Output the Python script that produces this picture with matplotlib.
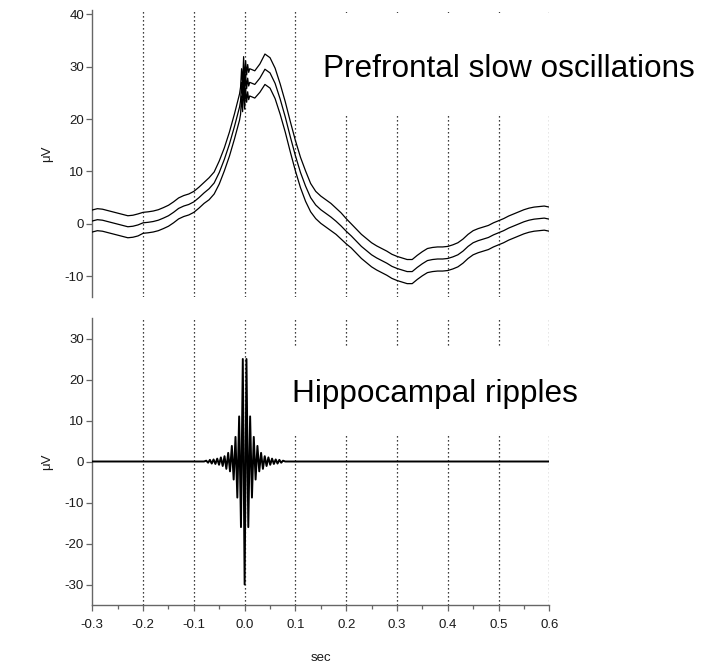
import numpy as np
import matplotlib
matplotlib.use("Agg")
import matplotlib.pyplot as plt
from matplotlib.patches import Rectangle

plt.rcParams['font.family'] = ['Liberation Sans', 'DejaVu Sans']
plt.rcParams['axes.unicode_minus'] = False

# ---------------- data ----------------
# Prefrontal slow oscillation (mean and SEM), time in s
so_t_left = np.round(np.arange(-0.30, -0.005, 0.01), 3)
so_t_center = [-0.008, -0.006, -0.004, -0.002, 0.0, 0.002, 0.004, 0.006, 0.008]
so_t_right = np.round(np.arange(0.01, 0.6001, 0.01), 3)
so_t = np.concatenate([so_t_left, so_t_center, so_t_right])

so_mean = [
    0.55, 0.8, 0.7, 0.45, 0.2, -0.05, -0.3, -0.55, -0.45, -0.2,
    0.2, 0.3, 0.45, 0.7, 1.1, 1.55, 2.2, 2.95, 3.4, 3.7,
    4.2, 5.0, 5.9, 6.7, 7.8, 9.8, 12.3, 15.2, 18.6, 22.3,
    23.5, 27.0, 24.0, 29.3, 24.5, 28.5, 25.8, 27.8, 26.3,
    27.0, 26.6, 27.8, 29.5, 28.8, 26.8, 23.8, 20.4, 16.6, 13.0,
    9.8, 7.2, 5.0, 3.6, 2.7, 2.0, 1.3, 0.5, -0.4, -1.4,
    -2.3, -3.3, -4.3, -5.1, -5.9, -6.5, -7.0, -7.5, -8.1, -8.5,
    -8.8, -9.1, -9.1, -8.3, -7.6, -7.0, -6.8, -6.7, -6.7, -6.6,
    -6.3, -5.9, -5.2, -4.3, -3.6, -3.2, -2.9, -2.6, -2.1, -1.7,
    -1.3, -0.8, -0.4, 0.0, 0.4, 0.7, 0.9, 1.0, 1.1, 0.9,
]
so_sem = [
    2.1, 2.1, 2.1, 2.1, 2.1, 2.1, 2.1, 2.1, 2.1, 2.1,
    2.0, 2.0, 2.0, 2.0, 2.0, 2.0, 2.0, 2.0, 2.0, 2.0,
    2.0, 2.0, 2.0, 2.1, 2.1, 2.2, 2.2, 2.3, 2.4, 2.5,
    2.6, 2.6, 2.6, 2.6, 2.6, 2.6, 2.6, 2.6, 2.6,
    2.6, 2.6, 2.7, 2.9, 2.9, 2.9, 2.9, 2.9, 2.9, 2.9,
    2.9, 2.9, 2.7, 2.6, 2.6, 2.6, 2.6, 2.5, 2.5, 2.4,
    2.3, 2.3, 2.3, 2.3, 2.3, 2.3, 2.3, 2.3, 2.3, 2.3,
    2.3, 2.3, 2.3, 2.3, 2.3, 2.3, 2.3, 2.3, 2.3, 2.3,
    2.3, 2.3, 2.3, 2.3, 2.3, 2.3, 2.3, 2.3, 2.3, 2.3,
    2.3, 2.3, 2.3, 2.3, 2.3, 2.3, 2.3, 2.3, 2.3, 2.3,
]

# Hippocampal ripple average: successive extrema (half-cycle spacing)
rip_half_period = 0.0036
rip_k = np.arange(-21, 22)
rip_vals = [
    0.2, -0.3, 0.4, -0.5, 0.5, -0.6, 0.7, -0.8, 1.0, -1.1, 1.3,
    -1.8, 2.1, -2.4, 3.8, -4.4, 6.0, -8.8, 11.0, -16.0, 25.0,
    -30.0,
    25.0, -16.0, 11.0, -8.8, 6.0, -4.4, 3.8, -2.4, 2.1, -1.8,
    1.3, -1.1, 1.0, -0.8, 0.7, -0.6, 0.5, -0.5, 0.4, -0.3, 0.2,
]
rip_t = np.concatenate([[-0.3, -0.08], rip_k * rip_half_period, [0.08, 0.6]])
rip_v = np.concatenate([[0.0, 0.0], rip_vals, [0.0, 0.0]])

x_ticks = [-0.3, -0.2, -0.1, 0.0, 0.1, 0.2, 0.3, 0.4, 0.5, 0.6]
x_ticklabels = ['-0.3', '-0.2', '-0.1', '0.0', '0.1', '0.2', '0.3', '0.4', '0.5', '0.6']
top_yticks = [-10, 0, 10, 20, 30, 40]
bot_yticks = [-30, -20, -10, 0, 10, 20, 30]

# ---------------- figure ----------------
fig = plt.figure(figsize=(7.01, 6.65), dpi=100)
L, W = 92.3 / 701, 457 / 701
ax1 = fig.add_axes([L, 1 - 297 / 665, W, 287 / 665])
ax2 = fig.add_axes([L, 1 - 605 / 665, W, 287 / 665])

spine_col = '#666666'
tick_col = '#1a1a1a'

for ax in (ax1, ax2):
    ax.set_xlim(-0.3, 0.6)
    ax.set_xticks(x_ticks)
    ax.set_axisbelow(True)
    ax.grid(axis='x', color='black', linestyle=(0, (1, 2.2)), linewidth=0.9)
    ax.xaxis.get_gridlines()[0].set_visible(False)
    for s in ('top', 'right'):
        ax.spines[s].set_visible(False)
    ax.spines['left'].set_color(spine_col)
    ax.spines['bottom'].set_color(spine_col)
    ax.spines['left'].set_linewidth(1.0)
    ax.spines['bottom'].set_linewidth(1.0)
    ax.tick_params(axis='y', direction='out', length=4, width=0.9, color=spine_col,
                   labelsize=9.5, labelcolor=tick_col, pad=2)
    ax.set_ylabel('μV', fontsize=9.5, color=tick_col)
    ax.yaxis.set_label_coords(-0.086, 0.5)

# top panel
ax1.set_ylim(-13.95, 40.8)
ax1.set_yticks(top_yticks)
ax1.spines['bottom'].set_visible(False)
ax1.tick_params(axis='x', which='both', bottom=False, labelbottom=False)
so_mean_a = np.array(so_mean)
so_sem_a = np.array(so_sem)
ax1.plot(so_t, so_mean_a + so_sem_a, color='black', lw=0.9, zorder=3)
ax1.plot(so_t, so_mean_a, color='black', lw=0.9, zorder=3)
ax1.plot(so_t, so_mean_a - so_sem_a, color='black', lw=0.9, zorder=3)
ax1.add_patch(Rectangle((0.145, 20.8), 0.5, 19.4, facecolor='white', edgecolor='none',
                        zorder=1, clip_on=False))
ax1.text(0.154, 28.0, 'Prefrontal slow oscillations', fontsize=22.7, ha='left',
         va='baseline', color='black', zorder=4)

# bottom panel
ax2.set_ylim(-35, 35)
ax2.set_yticks(bot_yticks)
ax2.set_xticklabels(x_ticklabels)
ax2.set_xticks(np.arange(-0.25, 0.6, 0.1), minor=True)
ax2.tick_params(axis='x', which='major', direction='out', length=4, width=0.9,
                color=spine_col, labelsize=9.5, labelcolor=tick_col, pad=6)
ax2.tick_params(axis='x', which='minor', direction='out', length=3, width=0.9,
                color=spine_col)
ax2.plot(rip_t, rip_v, color='black', lw=1.4, zorder=3)
ax2.add_patch(Rectangle((0.083, 6.8), 0.56, 21.1, facecolor='white', edgecolor='none',
                        zorder=1, clip_on=False))
ax2.text(0.093, 14.6, 'Hippocampal ripples', fontsize=22.7, ha='left',
         va='baseline', color='black', zorder=4)
ax2.set_xlabel('sec', fontsize=9.5, color=tick_col, labelpad=15)

fig.savefig('out.png', dpi=100)
